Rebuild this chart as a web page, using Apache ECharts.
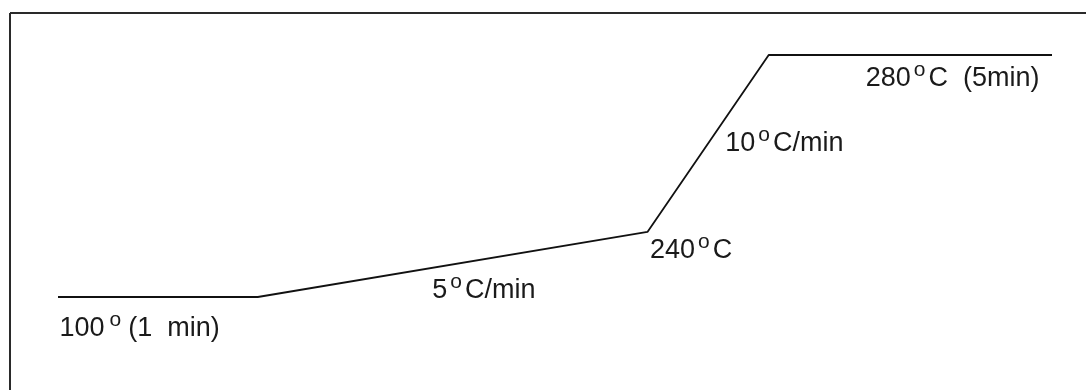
<!DOCTYPE html>
<html>
<head>
<meta charset="utf-8">
<script src="https://cdn.jsdelivr.net/npm/echarts@6/dist/echarts.min.js"></script>
<style>
  html, body { margin: 0; padding: 0; background: #ffffff; }
  #chart { width: 1086px; height: 390px; }
</style>
</head>
<body>
<div id="chart"></div>
<script>
// Schematic temperature programme (positions are schematic, not to scale, as in the original)
const profileX = [0, 20.1, 59.3, 71.5, 100];     // schematic time position (0–100)
const profileY = [0, 0, 26.9, 100, 100];         // schematic temperature level (0–100)
const stageText = [
  '{n|100}{w|o}{n|(1  min)}',
  '{n|5}{s|o}{n|C/min}',
  '{n|240}{s|o}{n|C}',
  '{n|10}{s|o}{n|C/min}',
  '{n|280}{s|o}{n|C  (5min)}'
];

const FONT = '"Liberation Sans", Arial, sans-serif';
const labelLayout = [
  { position: [2, 32], align: 'left' },
  { position: [175, -6], align: 'left' },
  { position: [3, 19], align: 'left' },
  { position: [-43, 89], align: 'left' },
  { position: [-12, 24], align: 'right' }
];

const seriesData = profileX.map((x, i) => ({
  value: [x, profileY[i]],
  label: {
    show: true,
    formatter: stageText[i],
    position: labelLayout[i].position,
    align: labelLayout[i].align,
    verticalAlign: 'middle',
    rich: {
      n: { fontSize: 27, fontFamily: FONT, color: '#1a1a1a' },
      s: { fontSize: 21, fontFamily: FONT, color: '#1a1a1a', padding: [0, 3, 16, 3] },
      w: { fontSize: 21, fontFamily: FONT, color: '#1a1a1a', padding: [0, 7, 16, 5] }
    }
  }
}));

const chart = echarts.init(document.getElementById('chart'), null, { renderer: 'canvas' });
chart.setOption({
  backgroundColor: '#ffffff',
  animation: false,
  grid: { left: 58, right: 34, top: 55, bottom: 93, containLabel: false },
  xAxis: { type: 'value', min: 0, max: 100, show: false },
  yAxis: { type: 'value', min: 0, max: 100, show: false },
  graphic: [
    { type: 'line', shape: { x1: 10, y1: 13, x2: 1086, y2: 13 }, style: { stroke: '#2a2a2a', lineWidth: 2 } },
    { type: 'line', shape: { x1: 10, y1: 13, x2: 10, y2: 390 }, style: { stroke: '#2a2a2a', lineWidth: 2 } }
  ],
  series: [{
    type: 'line',
    silent: true,
    data: seriesData,
    symbol: 'circle',
    symbolSize: 1,
    showSymbol: true,
    itemStyle: { color: 'rgba(0,0,0,0)' },
    lineStyle: { color: '#111111', width: 1.8 },
    emphasis: { disabled: true }
  }]
});
</script>
</body>
</html>
